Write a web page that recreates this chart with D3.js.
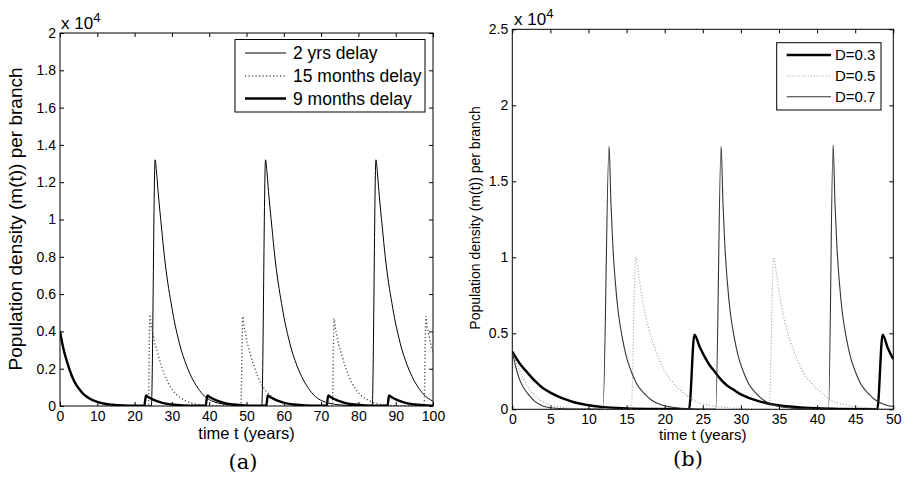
<!DOCTYPE html>
<html>
<head>
<meta charset="utf-8">
<script src="https://cdn.jsdelivr.net/npm/d3@7"></script>
<style>
  body { margin: 0; background: #fff; }
  svg { display: block; font-family: "Liberation Sans", Arial, Helvetica, sans-serif; }
</style>
</head>
<body>
<svg id="fig" width="905" height="481"></svg>
<script>
// ---- panel (a): delay comparison, values in units of 10^4 ----
const a2yrs = [
  [0,0.40],[1,0.30],[2,0.23],[3,0.17],[4,0.125],[5,0.095],[6,0.07],[7,0.052],[8,0.039],[10,0.022],[12,0.012],[14,0.007],[17,0.003],[20,0.0015],[24.5,0.001],
  [25.5,1.32],[25.9,1.25],[26.3,1.15],[27.2,0.96],[28,0.80],[28.9,0.66],[29.8,0.55],[30.7,0.45],[31.6,0.37],[32.5,0.30],[33.4,0.245],[35.2,0.157],[37,0.095],[38.8,0.052],[40.6,0.028],[42.5,0.015],[45.5,0.006],[49.5,0.002],[54.1,0.001],
  [55.1,1.32],[55.5,1.25],[55.9,1.15],[56.8,0.96],[57.6,0.80],[58.5,0.66],[59.4,0.55],[60.3,0.45],[61.2,0.37],[62.1,0.30],[63,0.245],[64.8,0.157],[66.6,0.095],[68.4,0.052],[70.2,0.028],[72.1,0.015],[75.1,0.006],[79.1,0.002],[83.7,0.001],
  [84.7,1.32],[85.1,1.25],[85.5,1.15],[86.4,0.96],[87.2,0.80],[88.1,0.66],[89,0.55],[89.9,0.45],[90.8,0.37],[91.7,0.30],[92.6,0.245],[94.4,0.157],[96.2,0.095],[98,0.052],[99.8,0.028],[100,0.026]
];
const a15months = [
  [0,0.40],[1,0.30],[2,0.23],[3,0.17],[4,0.125],[5,0.095],[6,0.07],[7,0.052],[8,0.039],[10,0.022],[12,0.012],[14,0.007],[17,0.003],[20,0.0015],[23.7,0.001],
  [24.1,0.49],[24.4,0.44],[24.8,0.40],[25.3,0.35],[26.1,0.29],[27.1,0.22],[28.1,0.165],[29.1,0.12],[30.1,0.088],[31.1,0.064],[32.6,0.04],[34.1,0.024],[36.1,0.012],[39.1,0.004],[44.1,0.001],[48.5,0.001],
  [49.0,0.48],[49.3,0.43],[49.7,0.39],[50.2,0.34],[51,0.28],[52,0.215],[53,0.16],[54,0.118],[55,0.086],[56,0.063],[57.5,0.04],[59,0.024],[61,0.012],[64,0.004],[69,0.001],[73.0,0.001],
  [73.5,0.47],[73.8,0.42],[74.2,0.38],[74.7,0.33],[75.5,0.275],[76.5,0.21],[77.5,0.157],[78.5,0.115],[79.5,0.084],[80.5,0.061],[82,0.039],[83.5,0.023],[85.5,0.011],[88.5,0.004],[93.5,0.001],[97.6,0.001],
  [98.1,0.48],[98.4,0.43],[98.8,0.39],[99.3,0.34],[100,0.29]
];
const a9months = [
  [0,0.40],[1,0.30],[2,0.23],[3,0.17],[4,0.125],[5,0.095],[6,0.07],[7,0.052],[8,0.039],[10,0.022],[12,0.012],[14,0.007],[17,0.003],[20,0.0015],[22.6,0.001],
  [23.05,0.057],[23.5,0.05],[24,0.044],[25,0.034],[26,0.026],[27,0.019],[28,0.014],[30,0.008],[33,0.003],[37,0.001],[39.05,0.001],
  [39.5,0.057],[40,0.05],[40.5,0.044],[41.5,0.034],[42.5,0.026],[43.5,0.019],[44.5,0.014],[46.5,0.008],[49.5,0.003],[53.5,0.001],[55.3,0.001],
  [55.7,0.057],[56.2,0.05],[56.7,0.044],[57.7,0.034],[58.7,0.026],[59.7,0.019],[60.7,0.014],[62.7,0.008],[65.7,0.003],[69.7,0.001],[71.5,0.001],
  [71.9,0.057],[72.4,0.05],[72.9,0.044],[73.9,0.034],[74.9,0.026],[75.9,0.019],[76.9,0.014],[78.9,0.008],[81.9,0.003],[85.9,0.001],[87.8,0.001],
  [88.2,0.057],[88.7,0.05],[89.2,0.044],[90.2,0.034],[91.2,0.026],[92.2,0.019],[93.2,0.014],[95.2,0.008],[98.2,0.003],[100,0.002]
];
const aXTicks = [0, 10, 20, 30, 40, 50, 60, 70, 80, 90, 100];
const aYTicks = [0, 0.2, 0.4, 0.6, 0.8, 1, 1.2, 1.4, 1.6, 1.8, 2];
const aYTickLabels = ["0", "0.2", "0.4", "0.6", "0.8", "1", "1.2", "1.4", "1.6", "1.8", "2"];
const aLegend = ["2 yrs delay", "15 months delay", "9 months delay"];

// ---- panel (b): diffusion comparison ----
const bD03 = [
  [0,0.38],[1,0.30],[2,0.24],[3,0.185],[4,0.14],[5,0.11],[6,0.085],[7,0.065],[8,0.048],[10,0.027],[12,0.014],[15,0.006],[19,0.002],[23.2,0.001],
  [23.9,0.49],[24.6,0.41],[25.3,0.34],[25.9,0.29],[26.6,0.245],[27.3,0.20],[28.1,0.16],[29,0.13],[30,0.098],[31.2,0.072],[32.3,0.054],[33.4,0.04],[35.6,0.022],[37.8,0.013],[40,0.007],[43,0.003],[47.9,0.001],
  [48.6,0.49],[49.3,0.40],[50,0.33]
];
const bD05 = [
  [0,0.38],[0.5,0.31],[1,0.25],[1.5,0.195],[2,0.15],[2.5,0.115],[3,0.087],[4,0.05],[5,0.03],[6,0.018],[8,0.006],[11,0.002],[15.6,0.001],
  [16.2,1.0],[16.6,0.88],[17.05,0.73],[17.9,0.53],[18.8,0.39],[19.8,0.27],[21.1,0.175],[22.2,0.12],[23.8,0.058],[25.7,0.028],[27.7,0.013],[30.2,0.005],[33.7,0.001],
  [34.3,1.0],[34.7,0.88],[35.15,0.73],[36,0.53],[36.9,0.39],[37.9,0.27],[39.2,0.175],[40.3,0.12],[41.9,0.058],[43.8,0.028],[45.8,0.013],[48.3,0.005],[50,0.003]
];
const bD07 = [
  [0,0.38],[0.5,0.27],[1,0.19],[1.5,0.14],[2,0.105],[3,0.05],[4,0.022],[5,0.01],[7,0.003],[9,0.001],[11.9,0.001],
  [12.7,1.73],[12.95,1.35],[13.2,1.07],[13.5,0.85],[13.9,0.64],[14.4,0.48],[15,0.34],[15.6,0.25],[16.3,0.17],[17.3,0.105],[18.3,0.06],[19.5,0.03],[21.2,0.012],[23.7,0.004],[26.7,0.001],
  [27.4,1.73],[27.65,1.35],[27.9,1.07],[28.2,0.85],[28.6,0.64],[29.1,0.48],[29.7,0.34],[30.3,0.25],[31,0.17],[32,0.105],[33,0.06],[34.2,0.03],[35.9,0.012],[38.4,0.004],[41.5,0.001],
  [42.1,1.74],[42.35,1.35],[42.6,1.07],[42.9,0.85],[43.3,0.64],[43.8,0.48],[44.4,0.34],[45,0.25],[45.7,0.17],[46.7,0.105],[47.7,0.06],[48.9,0.03],[50,0.018]
];
const bXTicks = [0, 5, 10, 15, 20, 25, 30, 35, 40, 45, 50];
const bYTicks = [0, 0.5, 1, 1.5, 2, 2.5];
const bYTickLabels = ["0", "0.5", "1", "1.5", "2", "2.5"];
const bLegend = ["D=0.3", "D=0.5", "D=0.7"];

// line styles
const thinBlack = { stroke: "#000", width: 1, dash: null };
const thickBlack = { stroke: "#000", width: 2.4, dash: null };

const panels = [
  {
    id: "a", left: 60, right: 433, top: 33, bottom: 406,
    xDomain: [0, 100], yDomain: [0, 2],
    xTicks: aXTicks, yTicks: aYTicks, yTickLabels: aYTickLabels,
    series: [
      { name: aLegend[0], data: a2yrs, style: thinBlack },
      { name: aLegend[1], data: a15months, style: { stroke: "#555", width: 1.4, dash: "1.2,2.3" } },
      { name: aLegend[2], data: a9months, style: thickBlack }
    ],
    legend: { x: 235, y: 39.5, w: 190, h: 72.5, rows: [53, 76, 98.5], lineX: [245, 286], textX: 293, font: 17.5 },
    xLabel: { text: "time t (years)", x: 246.5, y: 439, font: 16.5 },
    yLabel: { text: "Population density (m(t)) per branch", x: 22, y: 219, font: 19 },
    exp: { x: 61, y: 29, font: 17 },
    caption: { text: "(a)", x: 243, y: 469, font: 21 }
  },
  {
    id: "b", left: 512.3, right: 893.3, top: 29.3, bottom: 409.3,
    xDomain: [0, 50], yDomain: [0, 2.5],
    xTicks: bXTicks, yTicks: bYTicks, yTickLabels: bYTickLabels,
    series: [
      { name: bLegend[0], data: bD03, style: thickBlack },
      { name: bLegend[1], data: bD05, style: { stroke: "#999", width: 1.1, dash: "1,2" } },
      { name: bLegend[2], data: bD07, style: { stroke: "#333", width: 1.1, dash: null } }
    ],
    legend: { x: 776.7, y: 42.7, w: 104.3, h: 67.3, rows: [55, 76, 96.7], lineX: [786.7, 831], textX: 835, font: 15 },
    xLabel: { text: "time t (years)", x: 702.8, y: 440, font: 15 },
    yLabel: { text: "Population density (m(t)) per branch", x: 479.5, y: 218, font: 14 },
    exp: { x: 514, y: 25, font: 17 },
    caption: { text: "(b)", x: 688, y: 466, font: 21 }
  }
];

const svg = d3.select("#fig");

function styleAxis(g, fontSize) {
  g.select(".domain").remove();
  g.attr("font-family", null).attr("font-size", fontSize);
  g.selectAll(".tick line").attr("stroke", "#000").attr("stroke-width", 1);
  g.selectAll(".tick text").attr("fill", "#000");
}

function drawPanel(p) {
  const x = d3.scaleLinear().domain(p.xDomain).range([p.left, p.right]);
  const y = d3.scaleLinear().domain(p.yDomain).range([p.bottom, p.top]);

  const g = svg.append("g").attr("class", "panel-" + p.id);

  // clip lines to the axes box
  g.append("clipPath").attr("id", "clip-" + p.id)
    .append("rect")
    .attr("x", p.left).attr("y", p.top)
    .attr("width", p.right - p.left).attr("height", p.bottom - p.top);

  const line = d3.line()
    .x(d => x(d[0]))
    .y(d => y(d[1]))
    .curve(d3.curveMonotoneX);

  g.append("g").attr("clip-path", `url(#clip-${p.id})`)
    .selectAll("path")
    .data(p.series)
    .join("path")
    .attr("d", d => line(d.data))
    .attr("fill", "none")
    .attr("stroke", d => d.style.stroke)
    .attr("stroke-width", d => d.style.width)
    .attr("stroke-dasharray", d => d.style.dash)
    .attr("stroke-linejoin", "round");

  // axes, MATLAB style: inward ticks on all four sides
  g.append("g")
    .attr("transform", `translate(0,${p.bottom})`)
    .call(d3.axisBottom(x).tickValues(p.xTicks).tickSizeInner(-4).tickSizeOuter(0).tickPadding(5).tickFormat(d3.format("d")))
    .call(ax => styleAxis(ax, 14));
  g.append("g")
    .attr("transform", `translate(0,${p.top})`)
    .call(d3.axisTop(x).tickValues(p.xTicks).tickSizeInner(-4).tickSizeOuter(0).tickFormat(""))
    .call(ax => styleAxis(ax, 14));
  g.append("g")
    .attr("transform", `translate(${p.left},0)`)
    .call(d3.axisLeft(y).tickValues(p.yTicks).tickSizeInner(-4).tickSizeOuter(0).tickPadding(4).tickFormat((d, i) => p.yTickLabels[i]))
    .call(ax => styleAxis(ax, 14));
  g.append("g")
    .attr("transform", `translate(${p.right},0)`)
    .call(d3.axisRight(y).tickValues(p.yTicks).tickSizeInner(-4).tickSizeOuter(0).tickFormat(""))
    .call(ax => styleAxis(ax, 14));

  // axes box
  g.append("rect")
    .attr("x", p.left).attr("y", p.top)
    .attr("width", p.right - p.left).attr("height", p.bottom - p.top)
    .attr("fill", "none").attr("stroke", "#000").attr("stroke-width", 1);

  // exponent label
  const ex = g.append("text")
    .attr("x", p.exp.x).attr("y", p.exp.y)
    .attr("font-size", p.exp.font)
    .text("x 10");
  ex.append("tspan").attr("dy", -7).attr("font-size", 13).text("4");

  // axis labels
  g.append("text")
    .attr("x", p.xLabel.x).attr("y", p.xLabel.y)
    .attr("text-anchor", "middle")
    .attr("font-size", p.xLabel.font)
    .text(p.xLabel.text);
  g.append("text")
    .attr("transform", `translate(${p.yLabel.x},${p.yLabel.y}) rotate(-90)`)
    .attr("text-anchor", "middle")
    .attr("font-size", p.yLabel.font)
    .text(p.yLabel.text);

  // caption
  g.append("text")
    .attr("x", p.caption.x).attr("y", p.caption.y)
    .attr("text-anchor", "middle")
    .attr("font-family", "'DejaVu Serif', 'Liberation Serif', serif")
    .attr("font-size", p.caption.font)
    .text(p.caption.text);

  // legend
  const L = p.legend;
  const lg = g.append("g").attr("class", "legend");
  lg.append("rect")
    .attr("x", L.x).attr("y", L.y).attr("width", L.w).attr("height", L.h)
    .attr("fill", "#fff").attr("stroke", "#000").attr("stroke-width", 1);
  const items = lg.selectAll(".item")
    .data(p.series)
    .join("g")
    .attr("class", "item");
  items.append("line")
    .attr("x1", L.lineX[0]).attr("x2", L.lineX[1])
    .attr("y1", (d, i) => L.rows[i]).attr("y2", (d, i) => L.rows[i])
    .attr("stroke", d => d.style.stroke)
    .attr("stroke-width", d => d.style.width)
    .attr("stroke-dasharray", d => d.style.dash);
  items.append("text")
    .attr("x", L.textX)
    .attr("y", (d, i) => L.rows[i] + L.font * 0.36)
    .attr("font-size", L.font)
    .text(d => d.name);
}

panels.forEach(drawPanel);
</script>
</body>
</html>
